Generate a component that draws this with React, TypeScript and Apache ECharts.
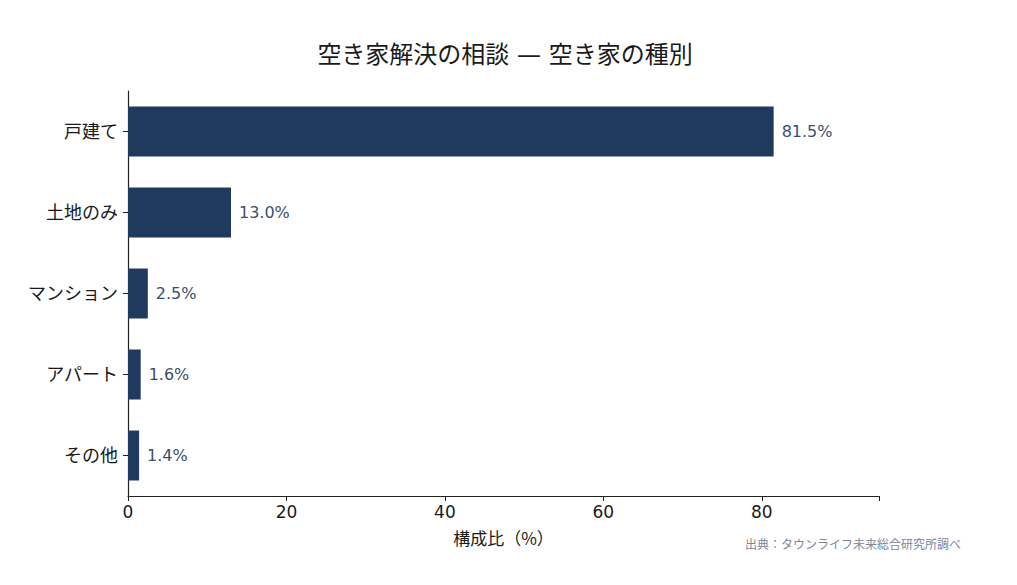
import React, { useEffect, useRef } from "react";
import * as echarts from "echarts";

const categories = ["戸建て", "土地のみ", "マンション", "アパート", "その他"];
const values = [81.5, 13.0, 2.5, 1.6, 1.4];
const xTicks = [0, 20, 40, 60, 80];

const FONT = '"DejaVu Sans", "Noto Sans CJK JP", sans-serif';
const CJK = '"Noto Sans CJK JP", "DejaVu Sans", sans-serif';

export default function App() {
  const ref = useRef<HTMLDivElement>(null);
  useEffect(() => {
    if (!ref.current) return;
    const chart = echarts.init(ref.current, undefined, { renderer: "svg" });
    chart.setOption({
      animation: false,
      backgroundColor: "#ffffff",
      textStyle: { fontFamily: FONT },
      grid: { left: 120, right: 130, top: 83, bottom: 81, containLabel: false },
      graphic: [
        {
          type: "text",
          x: 497,
          y: 47,
          style: {
            text: "空き家解決の相談 — 空き家の種別",
            font: `24px ${FONT}`,
            fill: "#1a1a1a",
            textAlign: "center",
            textVerticalAlign: "middle",
          },
        },
        {
          type: "text",
          x: 953,
          y: 537,
          style: {
            text: "出典：タウンライフ未来総合研究所調べ",
            font: `12px ${FONT}`,
            fill: "#7b8799",
            textAlign: "right",
            textVerticalAlign: "middle",
          },
        },
      ],
      xAxis: {
        type: "value",
        min: 0,
        max: 94.8,
        interval: 20,
        splitLine: { show: false },
        axisLine: { show: true, lineStyle: { color: "#222", width: 1.2 } },
        axisTick: { show: true, length: 5, lineStyle: { color: "#222" } },
        axisLabel: {
          fontSize: 17,
          color: "#1a1a1a",
          margin: 7,
          fontFamily: FONT,
          formatter: (v: number) => (xTicks.includes(v) ? String(v) : ""),
        },
        name: "構成比（%）",
        nameLocation: "middle",
        nameGap: 33,
        nameTextStyle: { fontSize: 17, color: "#1a1a1a", fontFamily: CJK },
      },
      yAxis: {
        type: "category",
        data: categories,
        inverse: true,
        axisLine: { show: true, lineStyle: { color: "#222", width: 1.2 } },
        axisTick: { show: true, alignWithLabel: true, length: 5, lineStyle: { color: "#222" } },
        axisLabel: { fontSize: 18, color: "#1a1a1a", margin: 10, fontFamily: FONT },
        splitLine: { show: false },
      },
      series: [
        {
          type: "bar",
          data: values,
          barWidth: 50,
          itemStyle: { color: "#1f3a5e" },
          label: {
            show: true,
            position: "right",
            distance: 8,
            fontSize: 16,
            color: "#3a4f6e",
            fontFamily: FONT,
            formatter: (p: any) => `${Number(p.value).toFixed(1)}%`,
          },
        },
      ],
    });
    return () => chart.dispose();
  }, []);
  return <div ref={ref} style={{ width: 1001, height: 569 }} />;
}
